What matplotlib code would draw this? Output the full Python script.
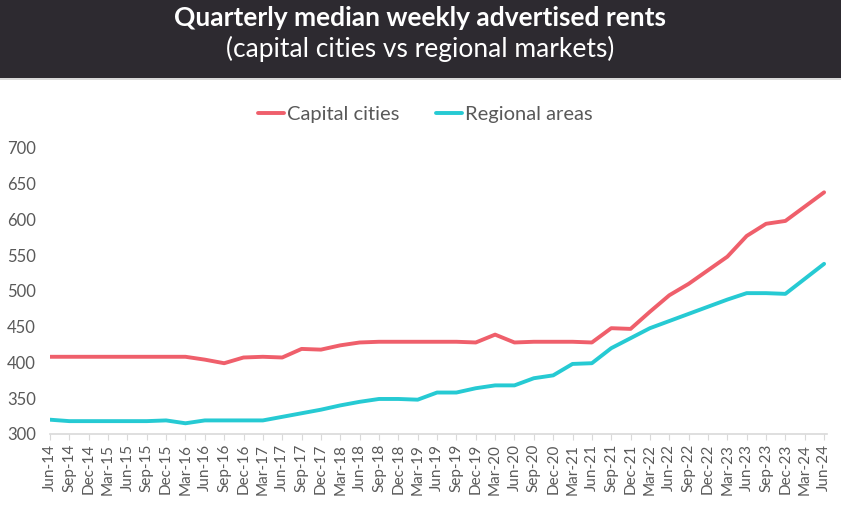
import matplotlib
matplotlib.use("Agg")
import matplotlib.pyplot as plt
from matplotlib.patches import Rectangle

# quarters Jun-14 .. Jun-24
quarters = [
    "Jun-14", "Sep-14", "Dec-14", "Mar-15", "Jun-15", "Sep-15", "Dec-15",
    "Mar-16", "Jun-16", "Sep-16", "Dec-16", "Mar-17", "Jun-17", "Sep-17",
    "Dec-17", "Mar-18", "Jun-18", "Sep-18", "Dec-18", "Mar-19", "Jun-19",
    "Sep-19", "Dec-19", "Mar-20", "Jun-20", "Sep-20", "Dec-20", "Mar-21",
    "Jun-21", "Sep-21", "Dec-21", "Mar-22", "Jun-22", "Sep-22", "Dec-22",
    "Mar-23", "Jun-23", "Sep-23", "Dec-23", "Mar-24", "Jun-24",
]
capital = [
    408, 408, 408, 408, 408, 408, 408, 408, 404, 399, 407, 408, 407, 419,
    418, 424, 428, 429, 429, 429, 429, 429, 428, 439, 428, 429, 429, 429,
    428, 448, 447, 471, 494, 510, 529, 548, 577, 594, 598, 618, 638,
]
regional = [
    320, 318, 318, 318, 318, 318, 319, 315, 319, 319, 319, 319, 324, 329,
    334, 340, 345, 349, 349, 348, 358, 358, 364, 368, 368, 378, 382, 398,
    399, 420, 434, 448, 458, 468, 478, 488, 497, 497, 496, 517, 538,
]

RED = "#ef5f6b"
CYAN = "#26cad3"
GREY = "#595959"
BAND = "#2d2a30"

plt.rcParams["font.family"] = ["Lato", "DejaVu Sans"]

fig = plt.figure(figsize=(8.41, 5.07), dpi=100, facecolor="white")

# dark title band with a thin grey rule under it
fig.patches.append(Rectangle((0, 1 - 78 / 507), 1, 78 / 507, transform=fig.transFigure,
                             facecolor=BAND, edgecolor="none", zorder=0))
fig.patches.append(Rectangle((0, 1 - 80 / 507), 1, 2 / 507, transform=fig.transFigure,
                             facecolor="#d9d9d9", edgecolor="none", zorder=0))
fig.text(0.5, 1 - 18 / 507, "Quarterly median weekly advertised rents",
         ha="center", va="center", color="white", fontsize=19, fontweight="bold")
fig.text(0.5, 1 - 49 / 507, "(capital cities vs regional markets)",
         ha="center", va="center", color="white", fontsize=19)

ax = fig.add_axes([50 / 841, 73 / 507, 777 / 841, 286 / 507])
x = list(range(len(quarters)))
ax.plot(x, capital, color=RED, lw=2.8, solid_joinstyle="round",
        solid_capstyle="round", label="Capital cities")
ax.plot(x, regional, color=CYAN, lw=2.8, solid_joinstyle="round",
        solid_capstyle="round", label="Regional areas")

ax.set_xlim(0, 40.15)
ax.set_ylim(300, 700)
ax.set_yticks(range(300, 701, 50))
ax.set_xticks(x)
ax.set_xticklabels(quarters, rotation=90, fontsize=11, color=GREY)
ax.tick_params(axis="y", length=0, pad=10, labelsize=12, labelcolor=GREY)
ax.tick_params(axis="x", length=4, width=0.8, color="#d9d9d9", pad=3)

for side in ("top", "right", "left"):
    ax.spines[side].set_visible(False)
ax.spines["bottom"].set_color("#d9d9d9")
ax.spines["bottom"].set_linewidth(1.2)

leg = fig.legend(loc="center", bbox_to_anchor=(425 / 841, 1 - 114 / 507), ncol=2,
                 frameon=False, fontsize=14.5, handlelength=1.3, handletextpad=0.15,
                 columnspacing=1.8)
for t in leg.get_texts():
    t.set_color(GREY)

fig.savefig("out.png", dpi=100, facecolor="white")
